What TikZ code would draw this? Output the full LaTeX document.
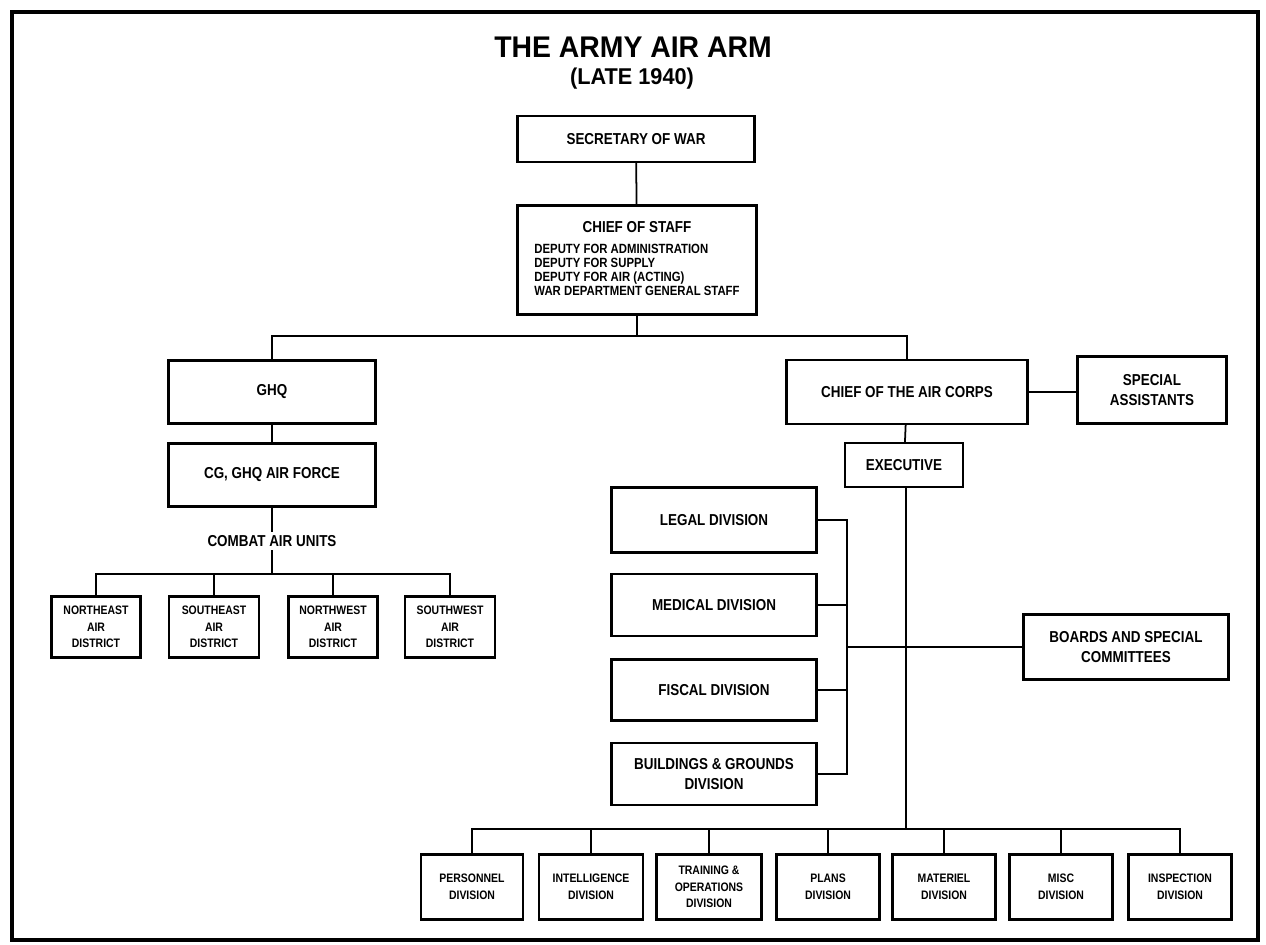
\documentclass[tikz,border=0pt]{standalone}
\usepackage{fontspec}
\setmainfont{Liberation Sans}[FakeStretch=0.85]
\newfontfamily\titlefont{Liberation Sans}[FakeStretch=0.95]
\usepackage{tikz}

\begin{document}
\begin{tikzpicture}[x=0.02cm,y=-0.02cm,
  box/.style={draw,line width=1.2pt,align=center,inner sep=1pt,font=\bfseries\fontsize{9}{11}\selectfont},
  smallbox/.style={box,font=\bfseries\fontsize{7}{9.4}\selectfont},
  conn/.style={line width=1pt}]

\useasboundingbox (0,0) rectangle (1266,944);
\draw[line width=1.8pt] (12,12) rectangle (1258,940);

\node[font=\titlefont\bfseries\fontsize{17}{20}\selectfont] (title) at (633,47) {THE ARMY AIR ARM};
\node[font=\titlefont\bfseries\fontsize{13}{15}\selectfont] (subtitle) at (632,79) {(LATE 1940)};

\node[box,minimum width=4.74cm,minimum height=0.92cm] (sec) at (636,139) {SECRETARY OF WAR};
\node[box,minimum width=4.78cm,minimum height=2.18cm] (cos) at (637,260)
  {\begin{tabular}{@{}l@{}}\multicolumn{1}{@{}c@{}}{\fontsize{9}{11}\selectfont CHIEF OF STAFF}\\[1pt]
   \fontsize{7.6}{8.2}\selectfont DEPUTY FOR ADMINISTRATION\\[-3pt]
   \fontsize{7.6}{8.2}\selectfont DEPUTY FOR SUPPLY\\[-3pt]
   \fontsize{7.6}{8.2}\selectfont DEPUTY FOR AIR (ACTING)\\[-3pt]
   \fontsize{7.6}{8.2}\selectfont WAR DEPARTMENT GENERAL STAFF\end{tabular}};

\node[box,minimum width=4.14cm,minimum height=1.26cm] (ghq) at (272,392) {GHQ};
\node[box,minimum width=4.82cm,minimum height=1.28cm] (cac) at (907,392) {CHIEF OF THE AIR CORPS};
\node[box,minimum width=2.98cm,minimum height=1.34cm] (sa) at (1152,390) {SPECIAL\\ASSISTANTS};
\node[box,minimum width=4.14cm,minimum height=1.26cm] (cg) at (272,475) {CG, GHQ AIR FORCE};
\node[font=\bfseries\fontsize{9}{11}\selectfont,inner sep=2pt] (cau) at (272,541) {COMBAT AIR UNITS};

\node[smallbox,minimum width=1.78cm,minimum height=1.22cm] (ne) at (96,627) {NORTHEAST\\AIR\\DISTRICT};
\node[smallbox,minimum width=1.8cm,minimum height=1.22cm] (se) at (214,627) {SOUTHEAST\\AIR\\DISTRICT};
\node[smallbox,minimum width=1.78cm,minimum height=1.22cm] (nw) at (333,627) {NORTHWEST\\AIR\\DISTRICT};
\node[smallbox,minimum width=1.8cm,minimum height=1.22cm] (sw) at (450,627) {SOUTHWEST\\AIR\\DISTRICT};

\node[box,minimum width=2.36cm,minimum height=0.88cm] (exe) at (904,465) {EXECUTIVE};
\node[box,minimum width=4.1cm,minimum height=1.3cm] (legal) at (714,520) {LEGAL DIVISION};
\node[box,minimum width=4.1cm,minimum height=1.24cm] (med) at (714,605) {MEDICAL DIVISION};
\node[box,minimum width=4.1cm,minimum height=1.22cm] (fis) at (714,690) {FISCAL DIVISION};
\node[box,minimum width=4.1cm,minimum height=1.24cm] (bg) at (714,774) {BUILDINGS \& GROUNDS\\DIVISION};
\node[box,minimum width=4.1cm,minimum height=1.3cm] (boards) at (1126,647) {BOARDS AND SPECIAL\\COMMITTEES};

\node[smallbox,minimum width=2.04cm,minimum height=1.3cm] (pers) at (472,887) {PERSONNEL\\DIVISION};
\node[smallbox,minimum width=2.08cm,minimum height=1.3cm] (intel) at (591,887) {INTELLIGENCE\\DIVISION};
\node[smallbox,minimum width=2.1cm,minimum height=1.3cm] (train) at (709,887) {TRAINING \&\\OPERATIONS\\DIVISION};
\node[smallbox,minimum width=2.06cm,minimum height=1.3cm] (plans) at (828,887) {PLANS\\DIVISION};
\node[smallbox,minimum width=2.06cm,minimum height=1.3cm] (mat) at (944,887) {MATERIEL\\DIVISION};
\node[smallbox,minimum width=2.06cm,minimum height=1.3cm] (misc) at (1061,887) {MISC\\DIVISION};
\node[smallbox,minimum width=2.06cm,minimum height=1.3cm] (insp) at (1180,887) {INSPECTION\\DIVISION};

\coordinate (topbus) at (637,336);
\coordinate (dbus) at (272,574);
\coordinate (brk) at (847,647);
\coordinate (bbus) at (906,829);

\draw[conn] (sec) -- (cos);
\draw[conn] (cos) -- (topbus);
\draw[conn] (ghq.north) |- (topbus) -| (cac.north);
\draw[conn] (cac.east) -- (cac.east -| sa.west);
\draw[conn] (ghq) -- (cg);
\draw[conn] (cg) -- (cau);
\draw[conn] (cau) -- (dbus);
\draw[conn] (ne.north) |- (dbus) -| (sw.north);
\foreach \d in {se,nw}
  \draw[conn] (\d.north) -- (\d.north |- dbus);

\draw[conn] (cac) -- (exe);
\draw[conn] (exe.south -| bbus) -- (bbus);
\draw[conn] (legal.east) -| (brk) |- (bg.east);
\draw[conn] (med.east) -- (med.east -| brk);
\draw[conn] (fis.east) -- (fis.east -| brk);
\draw[conn] (brk) -- (boards.west);

\draw[conn] (pers.north) |- (bbus) -| (insp.north);
\foreach \d in {intel,train,plans,mat,misc}
  \draw[conn] (\d.north) -- (\d.north |- bbus);

\end{tikzpicture}
\end{document}
